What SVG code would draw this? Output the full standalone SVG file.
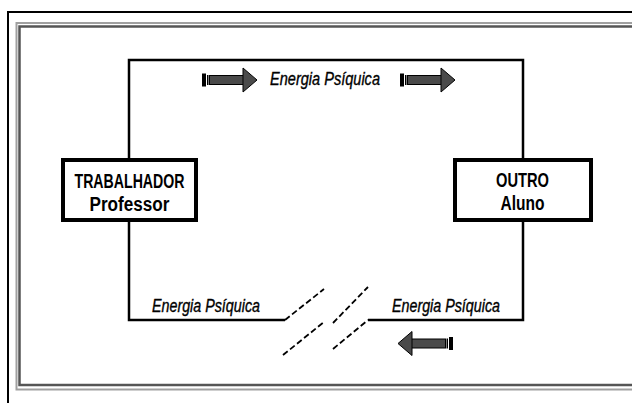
<svg xmlns="http://www.w3.org/2000/svg" width="632" height="403" viewBox="0 0 632 403">
  <style>
    .frame-outer { fill: none; stroke: #000; stroke-width: 2; }
    .frame-light { fill: none; stroke: #a0a0a0; stroke-width: 2; }
    .frame-dark { fill: none; stroke: #555; stroke-width: 2.5; }
    .wire { fill: none; stroke: #000; stroke-width: 2.5; }
    .dash { fill: none; stroke: #000; stroke-width: 1.8; stroke-dasharray: 6 3; }
    .box { fill: #fff; stroke: #000; stroke-width: 4; }
    .label { font-family: "Liberation Sans", Arial, sans-serif; font-weight: bold; font-size: 19.5px; fill: #000; text-anchor: middle; }
    .energy { font-family: "Liberation Sans", Arial, sans-serif; font-style: italic; font-size: 17.5px; fill: #000; stroke: #000; stroke-width: 0.35; }
  </style>
  <defs>
    <g id="blockArrow">
      <rect x="0" y="-6.5" width="4" height="13" fill="#000"/>
      <rect x="5" y="-5" width="1.5" height="10" fill="#000"/>
      <rect x="7.5" y="-4.5" width="34" height="9" fill="#4a4a4a" stroke="#000" stroke-width="1"/>
      <polygon points="41,-12 55,0 41,12" fill="#4a4a4a" stroke="#000" stroke-width="1" stroke-linejoin="miter"/>
    </g>
  </defs>
  <rect width="632" height="403" fill="#fff"/>

  <g id="frame">
    <rect class="frame-outer" x="8" y="12" width="700" height="450"/>
    <rect class="frame-light" x="16.5" y="23" width="700" height="366.5"/>
    <rect class="frame-dark" x="19.5" y="26.5" width="700" height="358.5"/>
  </g>

  <g id="connectors">
    <polyline class="wire" points="129,160 129,60 523,60 523,160"/>
    <polyline class="wire" points="129,220 129,320 285,320"/>
    <polyline class="wire" points="368,320 523,320 523,220"/>
    <line class="dash" x1="285" y1="320" x2="324" y2="289"/>
    <line class="dash" x1="283" y1="355" x2="324" y2="322"/>
    <line class="dash" x1="333" y1="323" x2="368" y2="287"/>
    <line class="dash" x1="333" y1="349" x2="368" y2="320"/>
    <use href="#blockArrow" transform="translate(202,80)"/>
    <use href="#blockArrow" transform="translate(400,80)"/>
    <use href="#blockArrow" transform="translate(453,343.5) scale(-1,1)"/>
  </g>

  <g id="labels">
    <text class="energy" x="270" y="85" textLength="110" lengthAdjust="spacingAndGlyphs">Energia Psíquica</text>
    <text class="energy" x="152" y="312" textLength="108" lengthAdjust="spacingAndGlyphs">Energia Psíquica</text>
    <text class="energy" x="392" y="312" textLength="108" lengthAdjust="spacingAndGlyphs">Energia Psíquica</text>
  </g>

  <g id="trabalhador">
    <rect class="box" x="63" y="160" width="133" height="60"/>
    <text class="label" x="129.5" y="187.5" textLength="110" lengthAdjust="spacingAndGlyphs">TRABALHADOR</text>
    <text class="label" x="129.5" y="211" textLength="80" lengthAdjust="spacingAndGlyphs">Professor</text>
  </g>

  <g id="outro">
    <rect class="box" x="455" y="160" width="136" height="60"/>
    <text class="label" x="522.5" y="186.5" textLength="53" lengthAdjust="spacingAndGlyphs">OUTRO</text>
    <text class="label" x="522.5" y="210" textLength="44" lengthAdjust="spacingAndGlyphs">Aluno</text>
  </g>
</svg>
